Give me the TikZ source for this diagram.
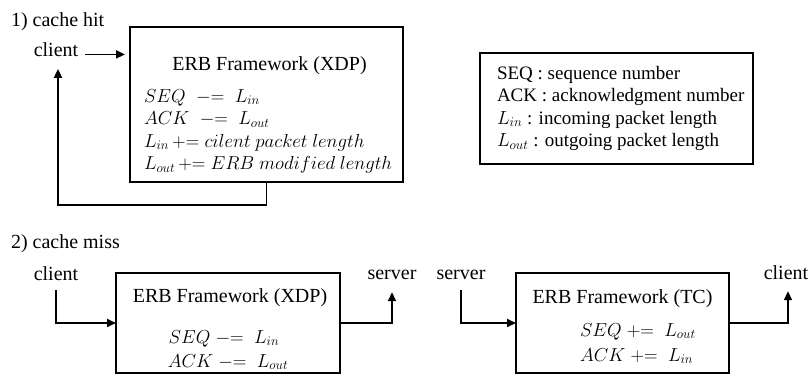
\RequirePackage{fix-cm}
\documentclass[tikz,border=0pt]{standalone}
\usepackage{fontspec}
\setmainfont{Liberation Serif}
\usetikzlibrary{arrows.meta}
\begin{document}
\begin{tikzpicture}[x=1pt,y=-1pt,
  every node/.style={inner sep=0pt, outer sep=0pt},
  txt/.style={font=\fontsize{20}{24}\selectfont},
  mth/.style={font=\fontsize{18.8}{22}\selectfont},
  leg/.style={font=\fontsize{19}{23}\selectfont},
  frame/.style={draw=black, line width=1.8pt},
  conn/.style={draw=black, line width=1.8pt},
  arr/.style={conn, -{Triangle[length=9pt,width=8pt]}},
]
\useasboundingbox (0,0) rectangle (809,376);

% ---------- 1) cache hit ----------
\node[txt, anchor=base west] (h1) at (11,26.7) {1) cache hit};
\node[txt, anchor=base] (c1) at (56,56.7) {client};

\node[frame, minimum width=273pt, minimum height=155pt] (b1) at (266.5,104.5) {};
\node[txt, anchor=base] (t1) at (269.5,70) {ERB Framework (XDP)};
\node[mth, anchor=base west] (m11) at (144,102) {$SEQ\;\;{-}{=}\;\;L_{in}$};
\node[mth, anchor=base west] (m12) at (144,124.5) {$ACK\;\;{-}{=}\;\;L_{out}$};
\node[mth, anchor=base west] (m13) at (144,147) {$L_{in}\,{+}{=}\;cilent\ packet\ length$};
\node[mth, anchor=base west] (m14) at (144,169.5) {$L_{out}\,{+}{=}\;ERB\ modified\ length$};

\draw[arr, shorten <=7pt, shorten >=5pt] (c1.mid east) -- (b1.west |- c1.mid east);
\draw[arr, shorten >=12pt] (b1.south) -- ++(0,23) -| ([xshift=2pt]c1.south);

% legend
\node[frame, minimum width=273pt, minimum height=111pt] (lg) at (616.5,108.5) {};
\node[leg, anchor=base west] (l1) at (497,79.3) {SEQ : sequence number};
\node[leg, anchor=base west] (l2) at (497,101.7) {ACK : acknowledgment number};
\node[leg, anchor=base west] (l3) at (497,124) {$L_{in}$ : incoming packet length};
\node[leg, anchor=base west] (l4) at (497,146.5) {$L_{out}$ : outgoing packet length};

% ---------- 2) cache miss ----------
\node[txt, anchor=base west] (h2) at (11,248) {2) cache miss};

\node[txt, anchor=base] (c2) at (56,280) {client};
\node[frame, minimum width=224pt, minimum height=100pt] (b2) at (228,323) {};
\node[txt, anchor=base] (t2) at (230,302) {ERB Framework (XDP)};
\node[mth, anchor=base] (m21) at (224,343) {$SEQ\;{-}{=}\;\;L_{in}$};
\node[mth, anchor=base] (m22) at (228,367) {$ACK\;{-}{=}\;\;L_{out}$};
\node[txt, anchor=base] (s1) at (392,279) {server};

\draw[arr, shorten <=10pt] (c2.south) |- (b2.west);
\draw[arr, shorten >=13pt] (b2.east) -| (s1.south);

\node[txt, anchor=base] (s2) at (461,279) {server};
\node[frame, minimum width=213pt, minimum height=100pt] (b3) at (622.5,323) {};
\node[txt, anchor=base] (t3) at (622.5,303) {ERB Framework (TC)};
\node[mth, anchor=base west] (m31) at (580,336) {$SEQ\;{+}{=}\;\;L_{out}$};
\node[mth, anchor=base west] (m32) at (580,361) {$ACK\;{+}{=}\;\;L_{in}$};
\node[txt, anchor=base] (c3) at (786,279) {client};

\draw[arr, shorten <=11pt] (s2.south) |- (b3.west);
\draw[arr, shorten >=12pt] (b3.east) -| ([xshift=2pt]c3.south);
\end{tikzpicture}
\end{document}
